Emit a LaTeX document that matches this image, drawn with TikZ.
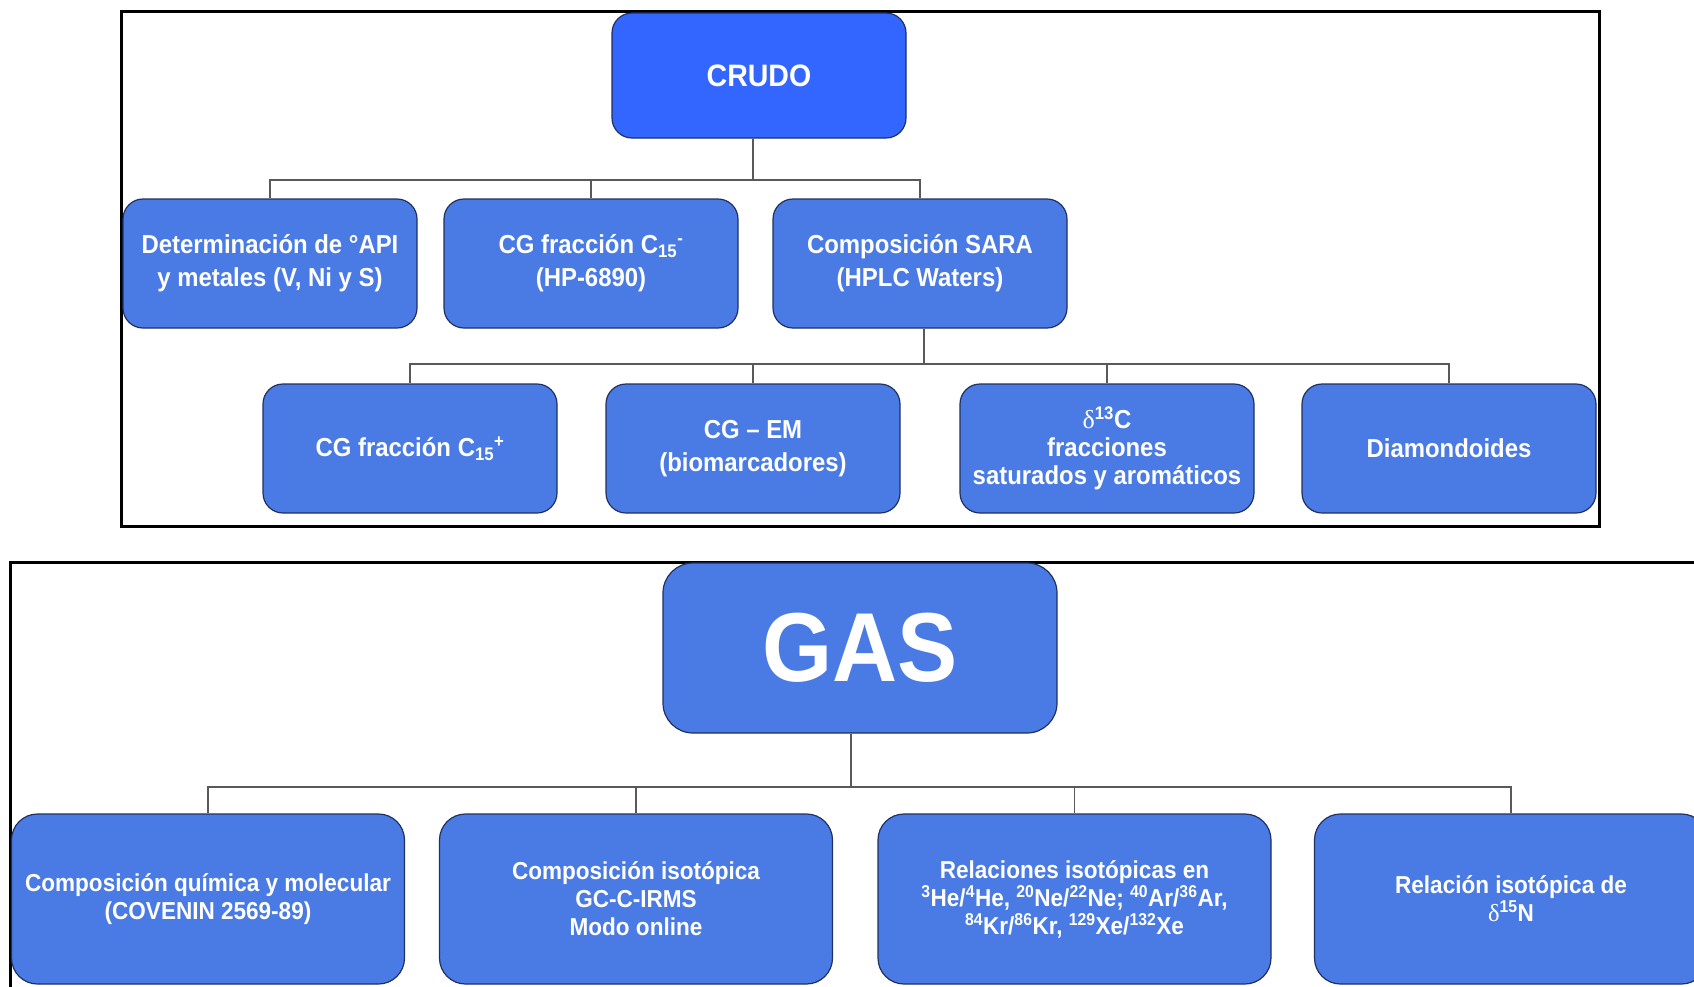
\documentclass[tikz,border=0pt]{standalone}
\usepackage{fontspec}
\setmainfont{Liberation Sans}[FakeStretch=0.92]
\newfontfamily\deltafont{Liberation Serif}
\usepackage{tikz}

\definecolor{crudoblue}{RGB}{51,102,255}
\definecolor{boxblue}{RGB}{74,123,229}
\definecolor{boxline}{RGB}{32,48,96}

% C_15 with a sign after it
\newcommand{\cquince}[1]{C\textsubscript{15}\textsuperscript{#1}}
\newcommand{\iso}[1]{\textsuperscript{#1}}

\begin{document}
\begin{tikzpicture}[x=1pt,y=-1pt,
  frame/.style={draw=black,line width=3pt},
  link/.style={draw=black!65,line width=1.5pt},
  box/.style={draw=boxline,fill=boxblue,line width=1.2pt,rounded corners=20pt,
    minimum width=294pt,minimum height=129pt,inner sep=0pt,text=white,align=center,
    font=\bfseries\fontsize{26}{33}\selectfont},
  topbox/.style={box,fill=crudoblue,minimum height=125pt,font=\bfseries\fontsize{31}{36}\selectfont},
  gasbox/.style={box,rounded corners=26pt,minimum width=393pt,minimum height=170pt,
    font=\bfseries\fontsize{24.5}{28}\selectfont},
  gastop/.style={gasbox,minimum width=394pt,rounded corners=30pt,font=\bfseries\fontsize{98}{110}\selectfont}]
\useasboundingbox (0,0) rectangle (1694,986);
\clip (0,0) rectangle (1694,986);

% border
\draw[frame] (121,11) rectangle (1599,526);
\draw[frame] (10,562) rectangle (1720,1000);

% crudo
\node[topbox] (crudo) at (759,75.5) {CRUDO};

% first row
\node[box] (api) at (270,263.5) {Determinación de °API\\y metales (V, Ni y S)};
\node[box] (cgmenos) at (591,263.5) {CG fracción \cquince{-}\\(HP-6890)};
\node[box] (sara) at (920,263.5) {Composición SARA\\(HPLC Waters)};

\coordinate (bus1) at (753,180);
\foreach \n in {api,cgmenos,sara} {
	\draw[link] (bus1 |- crudo.south) -- (bus1) -| (\n.north);
}

% second row
\node[box] (cgmas) at (410,448.5) {CG fracción \cquince{+}};
\node[box] (cgem) at (753,448.5) {CG -- EM\\(biomarcadores)};
\node[box,font=\bfseries\fontsize{26}{28}\selectfont] (delta) at (1107,448.5)
	{{\mdseries\deltafont δ}\iso{13}C\\fracciones\\saturados y aromáticos};
\node[box] (diamond) at (1449,448.5) {Diamondoides};

\coordinate (bus2) at (924,364);
\foreach \n in {cgmas,cgem,delta,diamond} {
	\draw[link] (bus2 |- sara.south) -- (bus2) -| (\n.north);
}

% gas
\node[gastop] (gas) at (860,648) {GAS};

\node[gasbox] (quim) at (208,899) {Composición química y molecular\\(COVENIN 2569-89)};
\node[gasbox] (irms) at (636,899) {Composición isotópica\\GC-C-IRMS\\Modo online};
\node[gasbox] (nobles) at (1074.5,899) {Relaciones isotópicas en\\
	\iso{3}He/\iso{4}He, \iso{20}Ne/\iso{22}Ne; \iso{40}Ar/\iso{36}Ar,\\
	\iso{84}Kr/\iso{86}Kr, \iso{129}Xe/\iso{132}Xe};
\node[gasbox] (nitro) at (1511,899) {Relación isotópica de\\{\mdseries\deltafont δ}\iso{15}N};

\coordinate (bus3) at (851,787);
\foreach \n in {quim,irms,nobles,nitro} {
	\draw[link] (bus3 |- gas.south) -- (bus3) -| (\n.north);
}

\end{tikzpicture}
\end{document}
